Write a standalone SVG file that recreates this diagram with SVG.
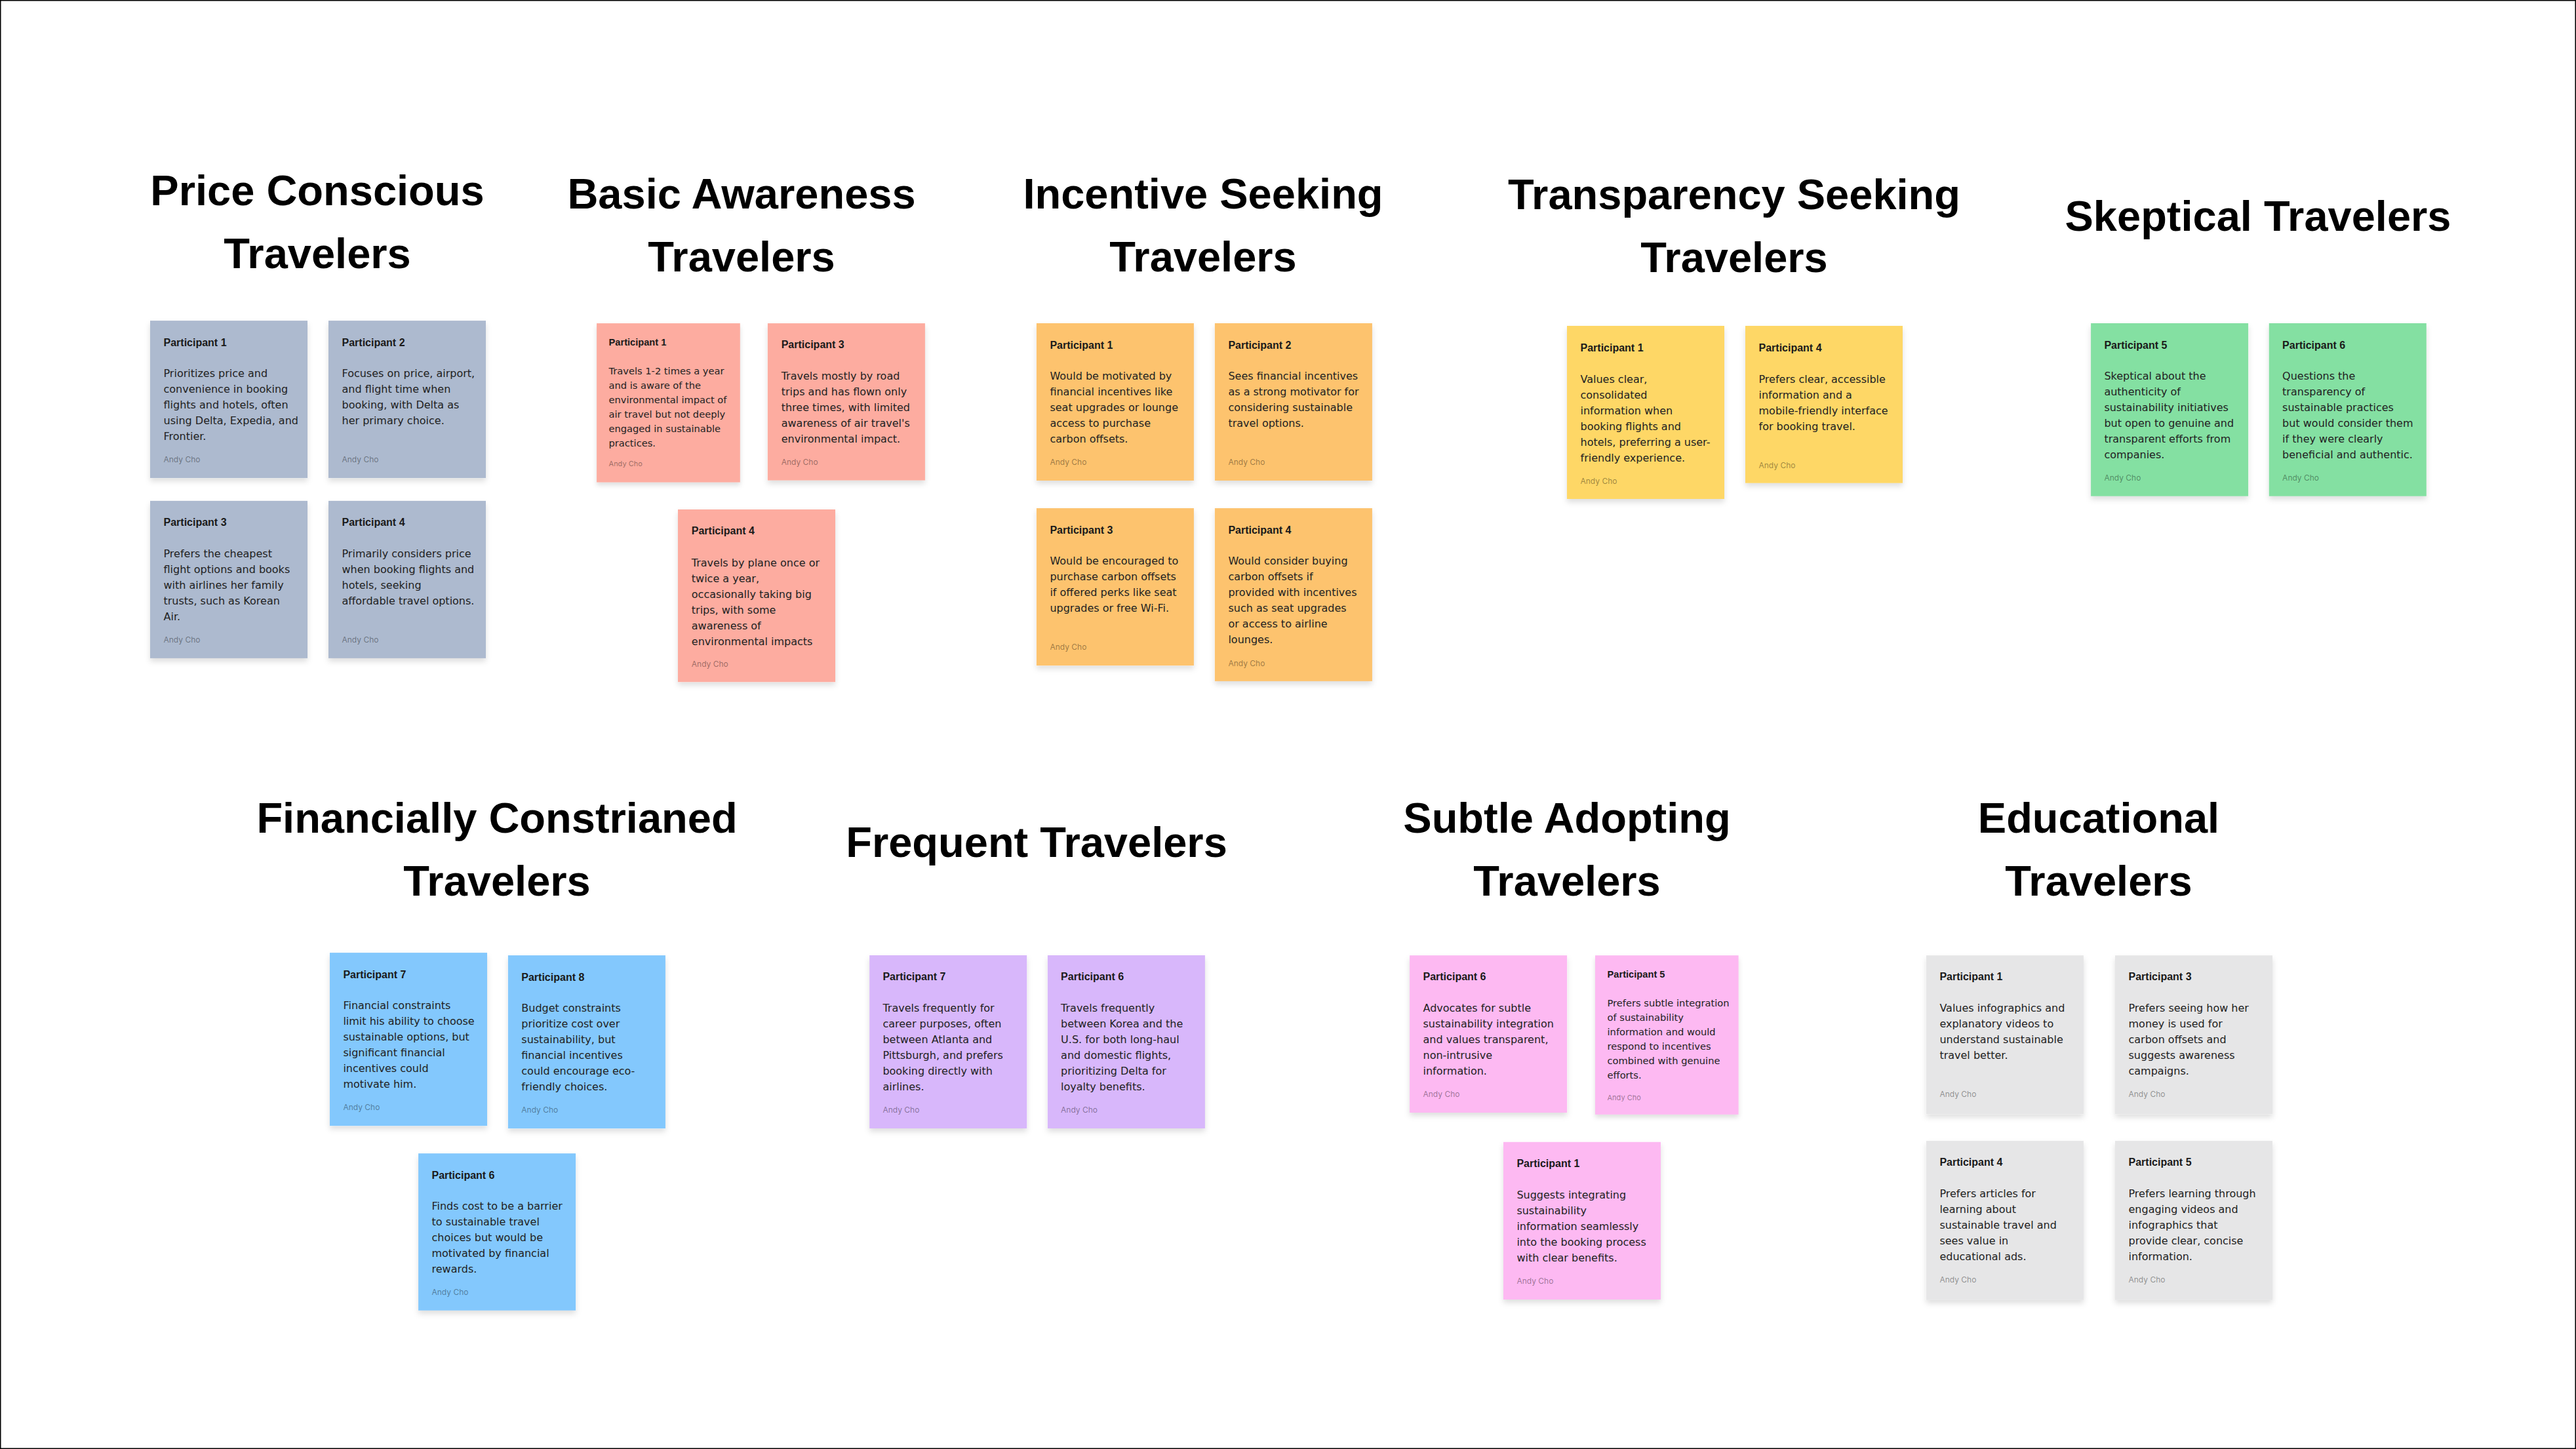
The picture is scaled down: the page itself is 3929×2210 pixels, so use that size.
<svg xmlns="http://www.w3.org/2000/svg" width="3929" height="2210" viewBox="0 0 3929 2210">
<defs>
<filter id="sh" x="-10%" y="-10%" width="120%" height="125%">
<feDropShadow dx="0" dy="5" stdDeviation="4" flood-color="#000" flood-opacity="0.13"/>
</filter>
</defs>
<style>
.ttl{font-family:"Liberation Sans",Arial,sans-serif;font-weight:700;font-size:65px;fill:#000;text-anchor:middle}
.h{font-family:"Liberation Sans",Arial,sans-serif;font-weight:700;font-size:16px;fill:#1a1a1a}
.b{font-family:"DejaVu Sans",sans-serif;font-size:16px;fill:#222}
.a{font-family:Inter,"Liberation Sans",sans-serif;font-size:12px;fill:#000;fill-opacity:0.4}
.price{fill:#adbacf}.basic{fill:#fdaca0}.inc{fill:#fdc36e}.trans{fill:#fed766}.skep{fill:#84e0a2}
.fin{fill:#83c8fd}.freq{fill:#d8b7fb}.subtle{fill:#fdb9f2}.edu{fill:#e6e6e7}
</style>
<rect x="0" y="0" width="3929" height="2210" fill="#fff" stroke="#000" stroke-width="3"/>

<!-- Titles -->
<g id="title-price"><text class="ttl"><tspan x="484" y="313">Price Conscious</tspan><tspan x="484" y="409">Travelers</tspan></text></g>
<g id="title-basic"><text class="ttl"><tspan x="1131" y="318">Basic Awareness</tspan><tspan x="1131" y="414">Travelers</tspan></text></g>
<g id="title-incentive"><text class="ttl"><tspan x="1835" y="318">Incentive Seeking</tspan><tspan x="1835" y="414">Travelers</tspan></text></g>
<g id="title-transparency"><text class="ttl"><tspan x="2645" y="319">Transparency Seeking</tspan><tspan x="2645" y="415">Travelers</tspan></text></g>
<g id="title-skeptical"><text class="ttl"><tspan x="3444" y="352">Skeptical Travelers</tspan></text></g>
<g id="title-financial"><text class="ttl"><tspan x="758" y="1270">Financially Constrianed</tspan><tspan x="758" y="1366">Travelers</tspan></text></g>
<g id="title-frequent"><text class="ttl"><tspan x="1581" y="1307">Frequent Travelers</tspan></text></g>
<g id="title-subtle"><text class="ttl"><tspan x="2390" y="1270">Subtle Adopting</tspan><tspan x="2390" y="1366">Travelers</tspan></text></g>
<g id="title-educational"><text class="ttl"><tspan x="3201" y="1270">Educational</tspan><tspan x="3201" y="1366">Travelers</tspan></text></g>

<g id="connectors"></g>

<!-- Price Conscious -->
<g id="price-p1" transform="translate(229,489.1)">
<rect class="price" width="240" height="240" filter="url(#sh)"/>
<text class="h" x="20.5" y="38.5">Participant 1</text>
<text class="b"><tspan x="20.5" y="86.3">Prioritizes price and</tspan><tspan x="20.5" dy="24">convenience in booking</tspan><tspan x="20.5" dy="24">flights and hotels, often</tspan><tspan x="20.5" dy="24">using Delta, Expedia, and</tspan><tspan x="20.5" dy="24">Frontier.</tspan></text>
<text class="a" x="20.5" y="216">Andy Cho</text>
</g>
<g id="price-p2" transform="translate(501,489.1)">
<rect class="price" width="240" height="240" filter="url(#sh)"/>
<text class="h" x="20.5" y="38.5">Participant 2</text>
<text class="b"><tspan x="20.5" y="86.3">Focuses on price, airport,</tspan><tspan x="20.5" dy="24">and flight time when</tspan><tspan x="20.5" dy="24">booking, with Delta as</tspan><tspan x="20.5" dy="24">her primary choice.</tspan></text>
<text class="a" x="20.5" y="216">Andy Cho</text>
</g>
<g id="price-p3" transform="translate(229,763.9)">
<rect class="price" width="240" height="240" filter="url(#sh)"/>
<text class="h" x="20.5" y="38.5">Participant 3</text>
<text class="b"><tspan x="20.5" y="86.3">Prefers the cheapest</tspan><tspan x="20.5" dy="24">flight options and books</tspan><tspan x="20.5" dy="24">with airlines her family</tspan><tspan x="20.5" dy="24">trusts, such as Korean</tspan><tspan x="20.5" dy="24">Air.</tspan></text>
<text class="a" x="20.5" y="216">Andy Cho</text>
</g>
<g id="price-p4" transform="translate(501,763.9)">
<rect class="price" width="240" height="240" filter="url(#sh)"/>
<text class="h" x="20.5" y="38.5">Participant 4</text>
<text class="b"><tspan x="20.5" y="86.3">Primarily considers price</tspan><tspan x="20.5" dy="24">when booking flights and</tspan><tspan x="20.5" dy="24">hotels, seeking</tspan><tspan x="20.5" dy="24">affordable travel options.</tspan></text>
<text class="a" x="20.5" y="216">Andy Cho</text>
</g>

<!-- Basic Awareness -->
<g id="basic-p1" transform="translate(910.1,493.1) scale(0.915)">
<rect class="basic" width="239" height="265" filter="url(#sh)"/>
<text class="h" x="20.2" y="37.5">Participant 1</text>
<text class="b"><tspan x="20.2" y="85">Travels 1-2 times a year</tspan><tspan x="20.2" dy="24">and is aware of the</tspan><tspan x="20.2" dy="24">environmental impact of</tspan><tspan x="20.2" dy="24">air travel but not deeply</tspan><tspan x="20.2" dy="24">engaged in sustainable</tspan><tspan x="20.2" dy="24">practices.</tspan></text>
<text class="a" x="20.2" y="238">Andy Cho</text>
</g>
<g id="basic-p3" transform="translate(1170.9,493.1)">
<rect class="basic" width="240" height="239.5" filter="url(#sh)"/>
<text class="h" x="20.8" y="38">Participant 3</text>
<text class="b"><tspan x="20.8" y="86">Travels mostly by road</tspan><tspan x="20.8" dy="24">trips and has flown only</tspan><tspan x="20.8" dy="24">three times, with limited</tspan><tspan x="20.8" dy="24">awareness of air travel's</tspan><tspan x="20.8" dy="24">environmental impact.</tspan></text>
<text class="a" x="20.8" y="216">Andy Cho</text>
</g>
<g id="basic-p4" transform="translate(1034,777)">
<rect class="basic" width="240" height="263.2" filter="url(#sh)"/>
<text class="h" x="20.8" y="38.3">Participant 4</text>
<text class="b"><tspan x="20.8" y="86.5">Travels by plane once or</tspan><tspan x="20.8" dy="24">twice a year,</tspan><tspan x="20.8" dy="24">occasionally taking big</tspan><tspan x="20.8" dy="24">trips, with some</tspan><tspan x="20.8" dy="24">awareness of</tspan><tspan x="20.8" dy="24">environmental impacts</tspan></text>
<text class="a" x="20.8" y="240">Andy Cho</text>
</g>

<!-- Incentive Seeking -->
<g id="inc-p1" transform="translate(1580.9,493)">
<rect class="inc" width="240" height="240" filter="url(#sh)"/>
<text class="h" x="20.5" y="38.5">Participant 1</text>
<text class="b"><tspan x="20.5" y="86">Would be motivated by</tspan><tspan x="20.5" dy="24">financial incentives like</tspan><tspan x="20.5" dy="24">seat upgrades or lounge</tspan><tspan x="20.5" dy="24">access to purchase</tspan><tspan x="20.5" dy="24">carbon offsets.</tspan></text>
<text class="a" x="20.5" y="216">Andy Cho</text>
</g>
<g id="inc-p2" transform="translate(1852.9,493)">
<rect class="inc" width="240" height="240" filter="url(#sh)"/>
<text class="h" x="20.5" y="38.5">Participant 2</text>
<text class="b"><tspan x="20.5" y="86">Sees financial incentives</tspan><tspan x="20.5" dy="24">as a strong motivator for</tspan><tspan x="20.5" dy="24">considering sustainable</tspan><tspan x="20.5" dy="24">travel options.</tspan></text>
<text class="a" x="20.5" y="216">Andy Cho</text>
</g>
<g id="inc-p3" transform="translate(1580.9,775.1)">
<rect class="inc" width="240" height="240" filter="url(#sh)"/>
<text class="h" x="20.5" y="38.5">Participant 3</text>
<text class="b"><tspan x="20.5" y="86">Would be encouraged to</tspan><tspan x="20.5" dy="24">purchase carbon offsets</tspan><tspan x="20.5" dy="24">if offered perks like seat</tspan><tspan x="20.5" dy="24">upgrades or free Wi-Fi.</tspan></text>
<text class="a" x="20.5" y="216">Andy Cho</text>
</g>
<g id="inc-p4" transform="translate(1852.9,775.1)">
<rect class="inc" width="240" height="263.8" filter="url(#sh)"/>
<text class="h" x="20.5" y="38.5">Participant 4</text>
<text class="b"><tspan x="20.5" y="86">Would consider buying</tspan><tspan x="20.5" dy="24">carbon offsets if</tspan><tspan x="20.5" dy="24">provided with incentives</tspan><tspan x="20.5" dy="24">such as seat upgrades</tspan><tspan x="20.5" dy="24">or access to airline</tspan><tspan x="20.5" dy="24">lounges.</tspan></text>
<text class="a" x="20.5" y="240.5">Andy Cho</text>
</g>

<!-- Transparency Seeking -->
<g id="trans-p1" transform="translate(2390,497)">
<rect class="trans" width="240" height="264" filter="url(#sh)"/>
<text class="h" x="20.5" y="38.7">Participant 1</text>
<text class="b"><tspan x="20.5" y="86.7">Values clear,</tspan><tspan x="20.5" dy="24">consolidated</tspan><tspan x="20.5" dy="24">information when</tspan><tspan x="20.5" dy="24">booking flights and</tspan><tspan x="20.5" dy="24">hotels, preferring a user-</tspan><tspan x="20.5" dy="24">friendly experience.</tspan></text>
<text class="a" x="20.5" y="241">Andy Cho</text>
</g>
<g id="trans-p4" transform="translate(2662,497)">
<rect class="trans" width="240" height="239.7" filter="url(#sh)"/>
<text class="h" x="20.5" y="38.7">Participant 4</text>
<text class="b"><tspan x="20.5" y="86.7">Prefers clear, accessible</tspan><tspan x="20.5" dy="24">information and a</tspan><tspan x="20.5" dy="24">mobile-friendly interface</tspan><tspan x="20.5" dy="24">for booking travel.</tspan></text>
<text class="a" x="20.5" y="217">Andy Cho</text>
</g>

<!-- Skeptical -->
<g id="skep-p5" transform="translate(3189.1,493)">
<rect class="skep" width="240" height="263.7" filter="url(#sh)"/>
<text class="h" x="20.3" y="38.7">Participant 5</text>
<text class="b"><tspan x="20.3" y="86.3">Skeptical about the</tspan><tspan x="20.3" dy="24">authenticity of</tspan><tspan x="20.3" dy="24">sustainability initiatives</tspan><tspan x="20.3" dy="24">but open to genuine and</tspan><tspan x="20.3" dy="24">transparent efforts from</tspan><tspan x="20.3" dy="24">companies.</tspan></text>
<text class="a" x="20.3" y="240.3">Andy Cho</text>
</g>
<g id="skep-p6" transform="translate(3460.8,493)">
<rect class="skep" width="240" height="263.7" filter="url(#sh)"/>
<text class="h" x="20.3" y="38.7">Participant 6</text>
<text class="b"><tspan x="20.3" y="86.3">Questions the</tspan><tspan x="20.3" dy="24">transparency of</tspan><tspan x="20.3" dy="24">sustainable practices</tspan><tspan x="20.3" dy="24">but would consider them</tspan><tspan x="20.3" dy="24">if they were clearly</tspan><tspan x="20.3" dy="24">beneficial and authentic.</tspan></text>
<text class="a" x="20.3" y="240.3">Andy Cho</text>
</g>

<!-- Financially Constrained -->
<g id="fin-p7" transform="translate(503,1453.1)">
<rect class="fin" width="240" height="264" filter="url(#sh)"/>
<text class="h" x="20.4" y="38.5">Participant 7</text>
<text class="b"><tspan x="20.4" y="86">Financial constraints</tspan><tspan x="20.4" dy="24">limit his ability to choose</tspan><tspan x="20.4" dy="24">sustainable options, but</tspan><tspan x="20.4" dy="24">significant financial</tspan><tspan x="20.4" dy="24">incentives could</tspan><tspan x="20.4" dy="24">motivate him.</tspan></text>
<text class="a" x="20.4" y="240">Andy Cho</text>
</g>
<g id="fin-p8" transform="translate(774.9,1457.1)">
<rect class="fin" width="240" height="264" filter="url(#sh)"/>
<text class="h" x="20.4" y="38.5">Participant 8</text>
<text class="b"><tspan x="20.4" y="86">Budget constraints</tspan><tspan x="20.4" dy="24">prioritize cost over</tspan><tspan x="20.4" dy="24">sustainability, but</tspan><tspan x="20.4" dy="24">financial incentives</tspan><tspan x="20.4" dy="24">could encourage eco-</tspan><tspan x="20.4" dy="24">friendly choices.</tspan></text>
<text class="a" x="20.4" y="240">Andy Cho</text>
</g>
<g id="fin-p6" transform="translate(638.1,1759.2)">
<rect class="fin" width="240" height="239.5" filter="url(#sh)"/>
<text class="h" x="20.4" y="38.5">Participant 6</text>
<text class="b"><tspan x="20.4" y="86">Finds cost to be a barrier</tspan><tspan x="20.4" dy="24">to sustainable travel</tspan><tspan x="20.4" dy="24">choices but would be</tspan><tspan x="20.4" dy="24">motivated by financial</tspan><tspan x="20.4" dy="24">rewards.</tspan></text>
<text class="a" x="20.4" y="216">Andy Cho</text>
</g>

<!-- Frequent -->
<g id="freq-p7" transform="translate(1326.2,1457)">
<rect class="freq" width="240" height="264" filter="url(#sh)"/>
<text class="h" x="20.2" y="38.3">Participant 7</text>
<text class="b"><tspan x="20.2" y="86">Travels frequently for</tspan><tspan x="20.2" dy="24">career purposes, often</tspan><tspan x="20.2" dy="24">between Atlanta and</tspan><tspan x="20.2" dy="24">Pittsburgh, and prefers</tspan><tspan x="20.2" dy="24">booking directly with</tspan><tspan x="20.2" dy="24">airlines.</tspan></text>
<text class="a" x="20.2" y="240">Andy Cho</text>
</g>
<g id="freq-p6" transform="translate(1597.9,1457)">
<rect class="freq" width="240" height="264" filter="url(#sh)"/>
<text class="h" x="20.2" y="38.3">Participant 6</text>
<text class="b"><tspan x="20.2" y="86">Travels frequently</tspan><tspan x="20.2" dy="24">between Korea and the</tspan><tspan x="20.2" dy="24">U.S. for both long-haul</tspan><tspan x="20.2" dy="24">and domestic flights,</tspan><tspan x="20.2" dy="24">prioritizing Delta for</tspan><tspan x="20.2" dy="24">loyalty benefits.</tspan></text>
<text class="a" x="20.2" y="240">Andy Cho</text>
</g>

<!-- Subtle Adopting -->
<g id="subtle-p6" transform="translate(2150.1,1457.2)">
<rect class="subtle" width="240" height="239.8" filter="url(#sh)"/>
<text class="h" x="20.4" y="38">Participant 6</text>
<text class="b"><tspan x="20.4" y="86">Advocates for subtle</tspan><tspan x="20.4" dy="24">sustainability integration</tspan><tspan x="20.4" dy="24">and values transparent,</tspan><tspan x="20.4" dy="24">non-intrusive</tspan><tspan x="20.4" dy="24">information.</tspan></text>
<text class="a" x="20.4" y="215.5">Andy Cho</text>
</g>
<g id="subtle-p5" transform="translate(2433,1457.2) scale(0.917)">
<rect class="subtle" width="238.4" height="264.6" filter="url(#sh)"/>
<text class="h" x="20.2" y="37.3">Participant 5</text>
<text class="b"><tspan x="20.2" y="85.3">Prefers subtle integration</tspan><tspan x="20.2" dy="24">of sustainability</tspan><tspan x="20.2" dy="24">information and would</tspan><tspan x="20.2" dy="24">respond to incentives</tspan><tspan x="20.2" dy="24">combined with genuine</tspan><tspan x="20.2" dy="24">efforts.</tspan></text>
<text class="a" x="20.2" y="240.7">Andy Cho</text>
</g>
<g id="subtle-p1" transform="translate(2293,1741.8)">
<rect class="subtle" width="240" height="240.2" filter="url(#sh)"/>
<text class="h" x="20.4" y="38">Participant 1</text>
<text class="b"><tspan x="20.4" y="86">Suggests integrating</tspan><tspan x="20.4" dy="24">sustainability</tspan><tspan x="20.4" dy="24">information seamlessly</tspan><tspan x="20.4" dy="24">into the booking process</tspan><tspan x="20.4" dy="24">with clear benefits.</tspan></text>
<text class="a" x="20.4" y="216">Andy Cho</text>
</g>

<!-- Educational -->
<g id="edu-p1" transform="translate(2937.9,1457.2)">
<rect class="edu" width="240" height="242" filter="url(#sh)"/>
<text class="h" x="20.5" y="37.8">Participant 1</text>
<text class="b"><tspan x="20.5" y="86">Values infographics and</tspan><tspan x="20.5" dy="24">explanatory videos to</tspan><tspan x="20.5" dy="24">understand sustainable</tspan><tspan x="20.5" dy="24">travel better.</tspan></text>
<text class="a" x="20.5" y="215.5">Andy Cho</text>
</g>
<g id="edu-p3" transform="translate(3226,1457.2)">
<rect class="edu" width="240" height="242" filter="url(#sh)"/>
<text class="h" x="20.5" y="37.8">Participant 3</text>
<text class="b"><tspan x="20.5" y="86">Prefers seeing how her</tspan><tspan x="20.5" dy="24">money is used for</tspan><tspan x="20.5" dy="24">carbon offsets and</tspan><tspan x="20.5" dy="24">suggests awareness</tspan><tspan x="20.5" dy="24">campaigns.</tspan></text>
<text class="a" x="20.5" y="215.5">Andy Cho</text>
</g>
<g id="edu-p4" transform="translate(2937.9,1740.1)">
<rect class="edu" width="240" height="242.6" filter="url(#sh)"/>
<text class="h" x="20.5" y="37.8">Participant 4</text>
<text class="b"><tspan x="20.5" y="86">Prefers articles for</tspan><tspan x="20.5" dy="24">learning about</tspan><tspan x="20.5" dy="24">sustainable travel and</tspan><tspan x="20.5" dy="24">sees value in</tspan><tspan x="20.5" dy="24">educational ads.</tspan></text>
<text class="a" x="20.5" y="216">Andy Cho</text>
</g>
<g id="edu-p5" transform="translate(3226,1740.1)">
<rect class="edu" width="240" height="242.6" filter="url(#sh)"/>
<text class="h" x="20.5" y="37.8">Participant 5</text>
<text class="b"><tspan x="20.5" y="86">Prefers learning through</tspan><tspan x="20.5" dy="24">engaging videos and</tspan><tspan x="20.5" dy="24">infographics that</tspan><tspan x="20.5" dy="24">provide clear, concise</tspan><tspan x="20.5" dy="24">information.</tspan></text>
<text class="a" x="20.5" y="216">Andy Cho</text>
</g>
</svg>
